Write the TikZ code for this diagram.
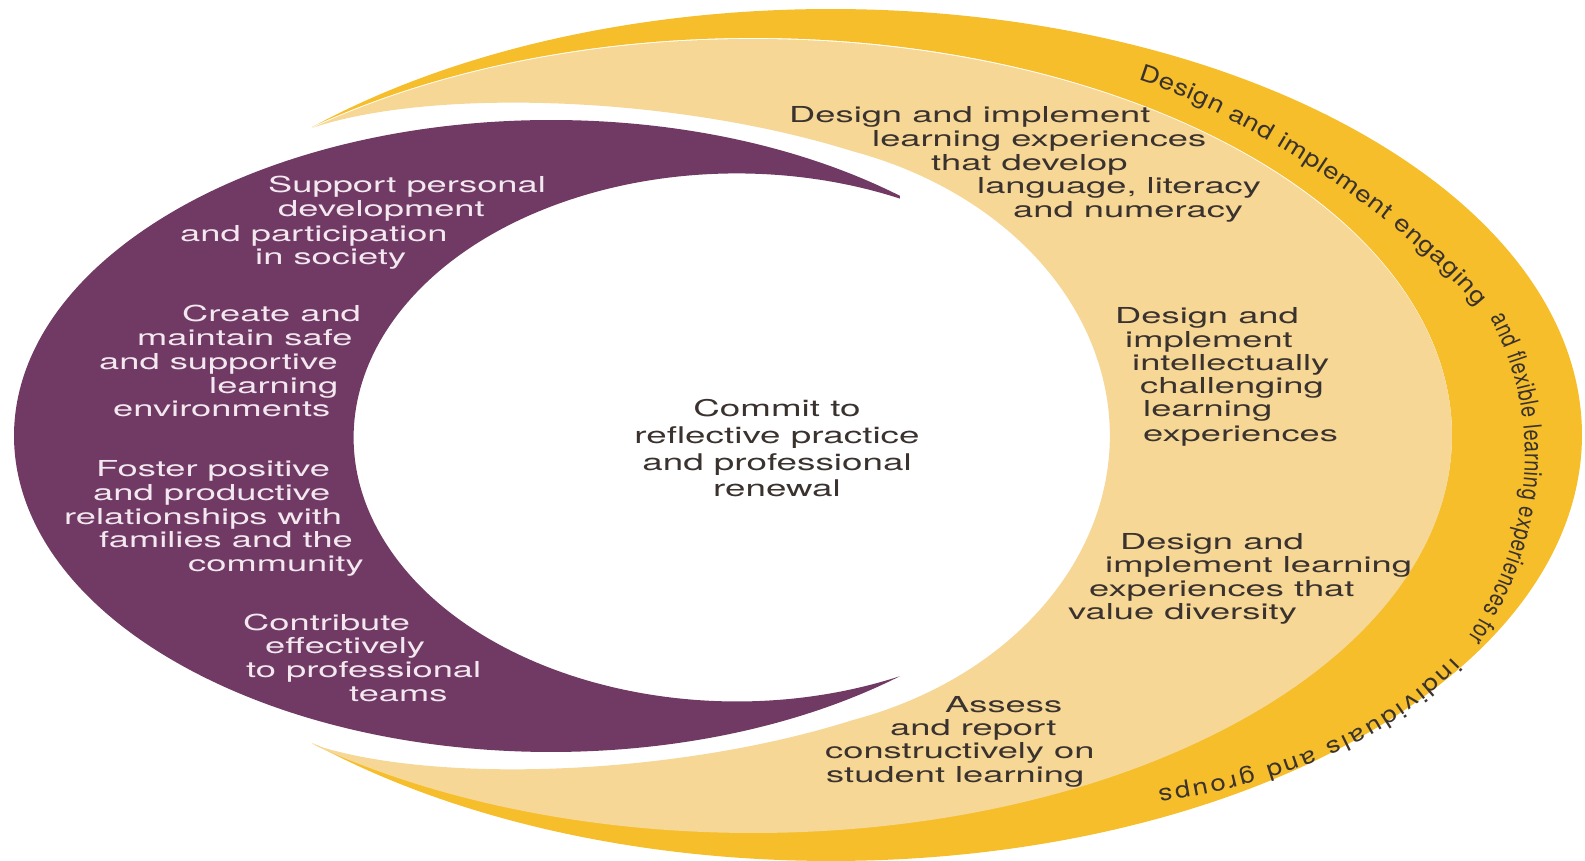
\documentclass[tikz,border=0pt]{standalone}
\usepackage{fontspec}
\setmainfont{TeX Gyre Heros}
\newfontfamily\bandwide[FakeStretch=1.2]{TeX Gyre Heros}
\newfontfamily\bandnarrow[FakeStretch=0.8]{TeX Gyre Heros}
\usetikzlibrary{calc}
\usetikzlibrary{decorations.text}
\definecolor{plum}{RGB}{112,58,100}
\definecolor{sand}{RGB}{246,215,150}
\definecolor{gold}{RGB}{245,190,42}
\definecolor{ink}{RGB}{58,50,46}
\definecolor{blush}{RGB}{243,232,240}
\newcommand{\widetxt}[1]{\scalebox{1.65}[1]{#1}}
\newcommand{\bandfont}{\fontsize{23}{23}\selectfont\color{ink}}
\newcommand{\bandtall}{\fontsize{25}{25}\selectfont\color{ink}}
\tikzstyle{ontxt} = [inner sep=0pt, anchor=base west, font=\fontsize{22}{24}\selectfont]
\tikzstyle{purtxt} = [ontxt, text=blush]
\tikzstyle{sandtxt} = [ontxt, text=ink]
\tikzstyle{midtxt} = [inner sep=0pt, anchor=base, text=ink, font=\fontsize{23}{26}\selectfont]

\begin{document}
\begin{tikzpicture}[x=1pt,y=1pt]
\useasboundingbox (0,0) rectangle (1585,-861);

\coordinate (ytop) at ([shift={(133.7:751 and 426)}]831,-435);
\coordinate (stop) at ([shift={(129.1:699 and 397)}]753,-436);
\coordinate (ptop) at ([shift={(49.5:537 and 316)}]551,-436);

\fill[gold] (ytop) arc[start angle=133.7, end angle=-133.7, x radius=751, y radius=426]
	arc[start angle=-129.1, end angle=129.1, x radius=699, y radius=397] -- cycle;
\fill[sand] (stop) arc[start angle=129.1, end angle=-129.1, x radius=699, y radius=397]
	.. controls (430,-784) and (673,-777) .. (853,-720)
	arc[start angle=-71.4, end angle=71.4, x radius=377, y radius=300]
	.. controls (673,-95) and (430,-88) .. (stop) -- cycle;
\fill[plum] (ptop) arc[start angle=49.5, end angle=310.5, x radius=537, y radius=316]
	arc[start angle=295.2, end angle=64.8, x radius=383, y radius=264] -- cycle;

\coordinate (banda) at (1138,-80);
\coordinate (bandb) at (1490,-318);
\coordinate (bandc) at (1452,-657);
\path[decorate, decoration={text along path, text align={fit to path},
	text={|\bandwide\bandfont|Design and implement engaging}}]
	(banda) .. controls (1250,-115) and (1410,-225) .. (1477,-307);
\path[decorate, decoration={text along path, text align={fit to path},
	text={|\bandnarrow\bandtall|and flexible learning experiences for}}]
	(bandb) .. controls (1547,-425) and (1530,-540) .. (1468,-638);
\path[decorate, decoration={text along path, text align={fit to path},
	text={|\bandwide\bandfont|individuals and groups}}]
	(bandc) .. controls (1375,-737) and (1270,-773) .. (1158,-790);

\foreach \x/\y/\t [count=\i] in {268/-193/Support personal, 278/-217/development, 180/-241/and participation, 255/-265/in society}{
	\node[purtxt] (sup\i) at (\x,\y) {\widetxt{\t}};
}
\foreach \x/\y/\t [count=\i] in {182/-321/Create and, 137/-345/maintain safe, 99/-369/and supportive, 209/-393/learning, 113/-416/environments}{
	\node[purtxt] (safe\i) at (\x,\y) {\widetxt{\t}};
}
\foreach \x/\y/\t [count=\i] in {96/-476/Foster positive, 93/-500/and productive, 64/-524/relationships with, 99/-547/families and the, 188/-571/community}{
	\node[purtxt] (fam\i) at (\x,\y) {\widetxt{\t}};
}
\foreach \x/\y/\t [count=\i] in {243/-630/Contribute, 265/-653/effectively, 246/-677/to professional, 349/-701/teams}{
	\node[purtxt] (team\i) at (\x,\y) {\widetxt{\t}};
}

\foreach \x/\y/\t [count=\i] in {789/-123/Design and implement, 872/-147/learning experiences, 931/-171/that develop, 977/-194/{language, literacy}, 1013/-218/and numeracy}{
	\node[sandtxt] (lit\i) at (\x,\y) {\widetxt{\t}};
}
\foreach \x/\y/\t [count=\i] in {1115/-323/Design and, 1125/-347/implement, 1132/-370/intellectually, 1140/-393/challenging, 1143/-416/learning, 1143/-441/experiences}{
	\node[sandtxt] (chal\i) at (\x,\y) {\widetxt{\t}};
}
\foreach \x/\y/\t [count=\i] in {1120/-549/Design and, 1105/-572/implement learning, 1089/-596/experiences that, 1068/-619/value diversity}{
	\node[sandtxt] (div\i) at (\x,\y) {\widetxt{\t}};
}
\foreach \x/\y/\t [count=\i] in {945/-712/Assess, 890/-735/and report, 825/-758/constructively on, 826/-782/student learning}{
	\node[sandtxt] (asm\i) at (\x,\y) {\widetxt{\t}};
}

\foreach \y/\t [count=\i] in {-416/Commit to, -443/reflective practice, -470/and professional, -496/renewal}{
	\node[midtxt] (ref\i) at (777,\y) {\scalebox{1.6}[1]{\t}};
}
\end{tikzpicture}
\end{document}
